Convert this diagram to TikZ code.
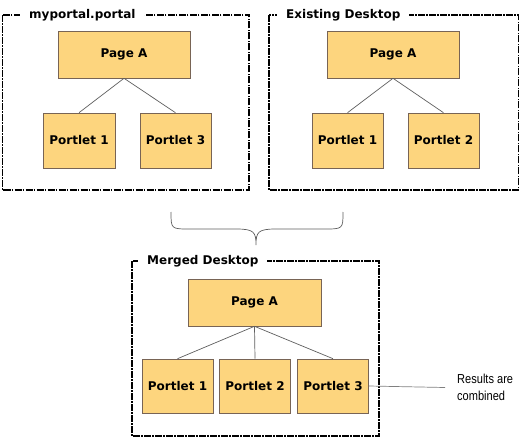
\documentclass[tikz,border=0pt]{standalone}
\usepackage{fontspec}
\setmainfont{DejaVu Sans}
\newfontfamily\notefont[FakeStretch=0.85]{Liberation Sans}
\usetikzlibrary{positioning}

\definecolor{boxfill}{RGB}{253,213,126}
\definecolor{boxline}{RGB}{120,100,85}
\definecolor{linkgray}{RGB}{95,95,95}

\tikzset{
  frame/.style={draw=black, line width=1.5pt, dash pattern=on 7pt off 1.2pt on 1.6pt off 1.2pt},
  frametitle/.style={fill=white, anchor=west, inner xsep=9pt, inner ysep=2pt,
    font=\fontsize{12}{14}\selectfont\bfseries},
  pagebox/.style={draw=boxline, fill=boxfill, line width=0.6pt, minimum width=132pt,
    minimum height=47pt, font=\fontsize{12}{14}\selectfont\bfseries},
  portletbox/.style={draw=boxline, fill=boxfill, line width=0.6pt, minimum width=71pt,
    minimum height=55pt, font=\fontsize{12}{14}\selectfont\bfseries},
  link/.style={draw=linkgray, line width=0.7pt}
}

\begin{document}
\begin{tikzpicture}[x=1pt, y=-1pt]

  \useasboundingbox[fill=white] (0,0) rectangle (521,438);

  % myportal.portal
  \draw[frame] (2.5,15) rectangle (249,190);
  \node[frametitle] (t1) at (20,15) {myportal.portal};
  \node[pagebox] (pa1) at (124,54.5) {Page A};
  \node[portletbox, minimum width=72pt] (p11) at (79,140.5) {Portlet 1};
  \node[portletbox] (p13) at (175.5,140.5) {Portlet 3};
  \draw[link] (pa1.south) -- (p11.north);
  \draw[link] (pa1.south) -- (p13.north);

  % existing desktop
  \draw[frame] (269,15) rectangle (518.5,190);
  \node[frametitle] (t2) at (277,15) {Existing Desktop};
  \node[pagebox] (pa2) at (393,54.5) {Page A};
  \node[portletbox] (p21) at (347.5,140.5) {Portlet 1};
  \node[portletbox] (p22) at (443.5,140.5) {Portlet 2};
  \draw[link] (pa2.south) -- (p21.north);
  \draw[link] (pa2.south) -- (p22.north);

  % brace
  \draw[linkgray, line width=0.7pt] (171,212) .. controls (171,229) and (171,229) .. (190,229)
    -- (236,229) .. controls (254,229) and (256,232) .. (256,245)
    .. controls (256,232) and (258,229) .. (276,229)
    -- (324,229) .. controls (343,229) and (343,229) .. (343,212);

  % merged desktop
  \draw[frame] (132,261) rectangle (379,436);
  \node[frametitle] (t3) at (138,261) {Merged Desktop};
  \node[pagebox, minimum width=133pt] (pa3) at (254.5,302.5) {Page A};
  \node[portletbox, minimum height=54pt] (p31) at (177.5,386) {Portlet 1};
  \node[portletbox, minimum height=54pt] (p32) at (255,386) {Portlet 2};
  \node[portletbox, minimum height=54pt] (p33) at (333,386) {Portlet 3};
  \draw[link] (pa3.south) -- (p31.north);
  \draw[link] (pa3.south) -- (p32.north);
  \draw[link] (pa3.south) -- (p33.north);

  \node[anchor=west, align=left, inner sep=0pt, font=\notefont\fontsize{13}{17}\selectfont]
    (note) at (457,387.5) {Results are\\combined};
  \draw[draw=gray, line width=0.7pt] (p33.east) -- ([xshift=-12pt]note.west);

\end{tikzpicture}
\end{document}
